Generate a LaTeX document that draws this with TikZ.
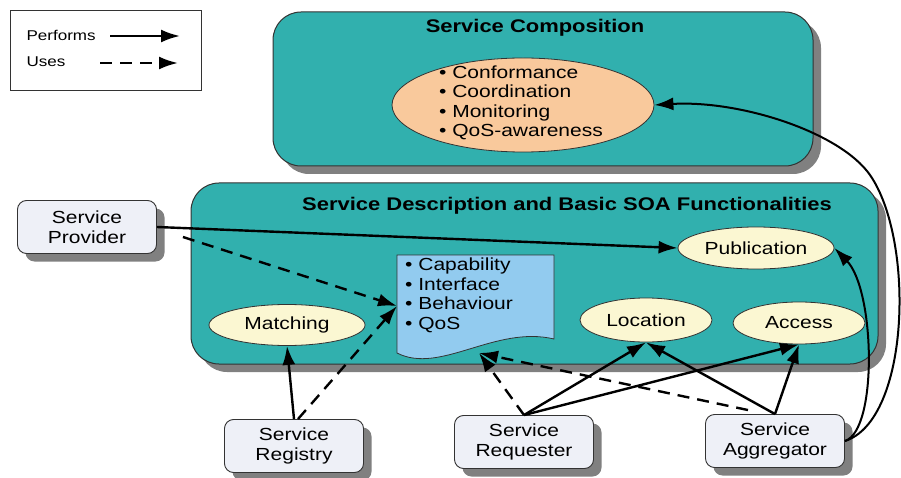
\documentclass[tikz,border=0pt]{standalone}
\usepackage{fontspec}
\setmainfont{Liberation Sans}[FakeStretch=1.2]
\usetikzlibrary{arrows.meta,shapes.geometric,shadows}
\definecolor{tealc}{HTML}{31B0AE}
\definecolor{shadc}{HTML}{808080}
\definecolor{peachc}{HTML}{F9C99C}
\definecolor{yellc}{HTML}{FBF7D2}
\definecolor{boxc}{HTML}{EEF0F7}
\definecolor{docc}{HTML}{92CBEF}
\definecolor{edgec}{HTML}{333333}
\newcommand\bodyf{\fontsize{17.5}{19.5}\selectfont}
\newcommand\titlef{\fontsize{18.3}{20}\selectfont\bfseries}
\newcommand\legf{\fontsize{14.2}{16}\selectfont}
\tikzset{
  shad/.style={drop shadow={shadow xshift=8pt,shadow yshift=-8pt,fill=shadc,opacity=1}},
  bigbox/.style={draw=edgec, line width=1pt, fill=tealc, rounded corners=28pt, shad},
  actor/.style={draw=edgec, line width=0.9pt, fill=boxc, rounded corners=9pt,
    minimum width=139pt, minimum height=53pt, align=center, font=\bodyf, inner sep=0pt, shad},
  func/.style={ellipse, draw=edgec, line width=0.8pt, fill=yellc, font=\bodyf, inner sep=0pt},
  perf/.style={line width=2.4pt, -{Latex[length=19pt,width=13pt]}},
  uses/.style={perf, dash pattern=on 12pt off 8pt},
  curv/.style={line width=2pt, -{Latex[length=19pt,width=13pt]}},
}
\begin{document}
\begin{tikzpicture}[x=1pt,y=-1pt]
\useasboundingbox (0,0) rectangle (901,478);
% legend
\node[draw=edgec, line width=0.8pt, minimum width=191pt, minimum height=80pt, inner sep=0pt] (legend) at (105.5,50) {};
\node[anchor=west, font=\legf] (lperf) at (23,35) {Performs};
\node[anchor=west, font=\legf] (luses) at (23,62) {Uses};
\coordinate (lpa) at (110,36);
\coordinate (lpb) at (180,36);
\coordinate (lua) at (100,63);
\coordinate (lub) at (178,63);
\draw[perf] (lpa) -- (lpb);
\draw[uses] (lua) -- (lub);
% big boxes
\node[bigbox, minimum width=540pt, minimum height=154pt] (comp) at (543,89) {};
\node[bigbox, minimum width=687pt, minimum height=181pt] (desc) at (534.5,273.5) {};
\node[font=\titlef] (comptitle) at (535,28) {Service Composition};
\node[font=\titlef] (desctitle) at (567,206) {Service Description and Basic SOA Functionalities};
% composition ellipse
\node[ellipse, draw=edgec, line width=0.8pt, fill=peachc, minimum width=262pt, minimum height=94pt, inner sep=0pt] (compell) at (523,105) {};
\node[align=left, font=\bodyf, inner sep=0pt] (complist) at (521,103) {• Conformance\\• Coordination\\• Monitoring\\• QoS-awareness};
% document
\path[draw=edgec, line width=0.8pt, fill=docc] (397,255) -- (554,255) -- (554,339)
  .. controls (495,325) and (440,375) .. (397,353) -- cycle;
\node[anchor=north west, align=left, font=\bodyf, inner sep=0pt] (doctext) at (405,258) {• Capability\\• Interface\\• Behaviour\\• QoS};
\coordinate (docL) at (397,306);
\coordinate (docB) at (479,353);
% functionalities
\node[func, minimum width=156pt, minimum height=41pt] (matching) at (287,325) {Matching};
\node[func, minimum width=156pt, minimum height=42pt] (publication) at (756,248) {Publication};
\node[func, minimum width=132pt, minimum height=44pt] (location) at (646,320) {Location};
\node[func, minimum width=132pt, minimum height=42pt] (access) at (799,323) {Access};
% actors
\node[actor] (provider) at (87,227) {Service\\Provider};
\node[actor] (registry) at (294,446) {Service\\Registry};
\node[actor] (requester) at (524,442) {Service\\Requester};
\node[actor] (aggregator) at (775,441) {Service\\Aggregator};
% connectors
\draw[perf] (provider.east) -- (publication.west);
\draw[uses] ([xshift=26pt,yshift=-10pt]provider.east) -- (docL);
\draw[perf] (registry.north) -- (matching.south);
\draw[uses] ([xshift=4pt]registry.north) -- (docL);
\draw[uses] (requester.north) -- (docB);
\draw[perf] (requester.north) -- (location.south);
\draw[perf] (requester.north) -- (access.south);
\draw[uses] ([xshift=-27pt,yshift=4pt]aggregator.north) -- (docB);
\draw[perf] (aggregator.north) -- (location.south);
\draw[perf] (aggregator.north) -- (access.south);
\draw[curv] (aggregator.east) .. controls (878,430) and (875,290) .. (publication.east);
\draw[curv] (aggregator.east) .. controls (910,420) and (915,240) .. (870,175)
  .. controls (840,132) and (740,100) .. (compell.east);
\end{tikzpicture}
\end{document}
